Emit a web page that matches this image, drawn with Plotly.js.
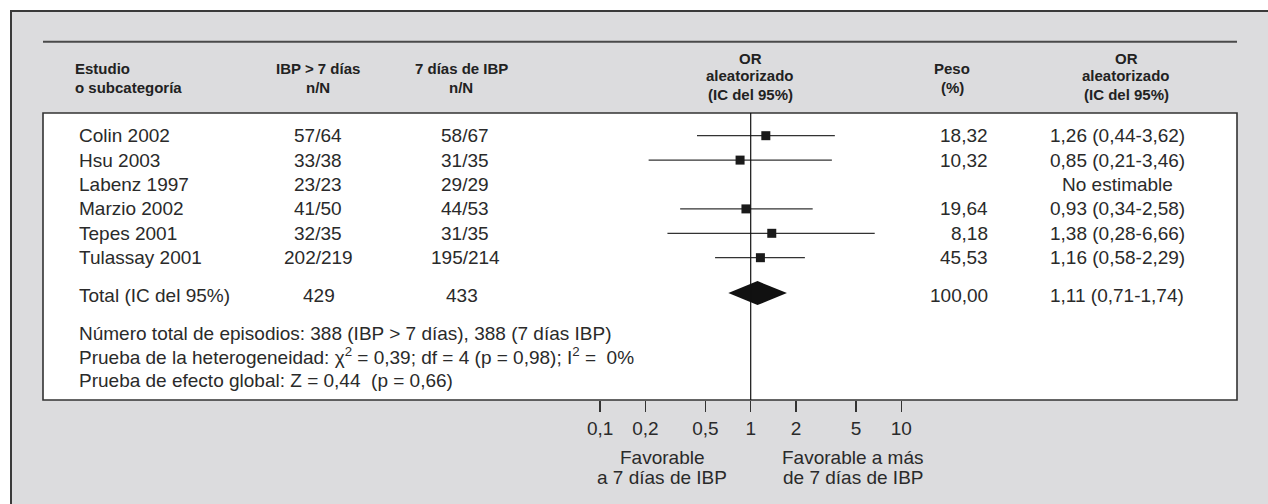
<!DOCTYPE html>
<html>
<head>
<meta charset="utf-8">
<script src="https://cdn.plot.ly/plotly-3.0.1.min.js"></script>
<style>html,body{margin:0;padding:0;background:#fff;}#chart{width:1268px;height:504px;}</style>
</head>
<body>
<div id="chart"></div>
<script>
// ---------- data ----------
const studies   = ['Colin 2002','Hsu 2003','Labenz 1997','Marzio 2002','Tepes 2001','Tulassay 2001'];
const treatNN   = ['57/64','33/38','23/23','41/50','32/35','202/219'];
const ctrlNN    = ['58/67','31/35','29/29','44/53','31/35','195/214'];
const orValues  = [1.26, 0.85, null, 0.93, 1.38, 1.16];
const ciLow     = [0.44, 0.21, null, 0.34, 0.28, 0.58];
const ciHigh    = [3.62, 3.46, null, 2.58, 6.66, 2.29];
const weights   = ['18,32','10,32','','19,64','8,18','45,53'];
const orLabels  = ['1,26 (0,44-3,62)','0,85 (0,21-3,46)','No estimable','0,93 (0,34-2,58)','1,38 (0,28-6,66)','1,16 (0,58-2,29)'];

const totalLabel  = 'Total (IC del 95%)';
const totalTreat  = '429';
const totalCtrl   = '433';
const totalOR     = 1.11;
const totalLow    = 0.71;
const totalHigh   = 1.74;
const totalWeight = '100,00';
const totalORText = '1,11 (0,71-1,74)';

const footerLines = [
  'Número total de episodios: 388 (IBP > 7 días), 388 (7 días IBP)',
  'Prueba de la heterogeneidad: χ<sup>2</sup> = 0,39; df = 4 (p = 0,98); I<sup>2</sup> =  0%',
  'Prueba de efecto global: Z = 0,44  (p = 0,66)'
];

const tickValues = [0.1, 0.2, 0.5, 1, 2, 5, 10];
const tickLabels = ['0,1','0,2','0,5','1','2','5','10'];

const hdrStudy  = ['Estudio','o subcategoría'];
const hdrTreat  = ['IBP > 7 días','n/N'];
const hdrCtrl   = ['7 días de IBP','n/N'];
const hdrPlot   = ['OR','aleatorizado','(IC del 95%)'];
const hdrWeight = ['Peso','(%)'];
const hdrOR     = ['OR','aleatorizado','(IC del 95%)'];

const favLeft  = ['Favorable','a 7 días de IBP'];
const favRight = ['Favorable a más','de 7 días de IBP'];

// ---------- geometry ----------
const W = 1268, H = 504;
const L = 43, R = 1237, T = 113, B = 400;
const pw = R - L, ph = B - T;
const onePx = 750.7, decPx = 150.6;
const rowPx0 = 135.7, rowStep = 24.4;
const px = q => (q - L) / pw;          // pixel x -> paper x
const py = p => (B - p) / ph;          // pixel y -> paper y
const rowOf = p => (p - rowPx0) / rowStep;

const xr = [(L - onePx) / decPx, (R - onePx) / decPx];
const yr = [rowOf(B), rowOf(T)];

const rows = studies.map((_, i) => i);
const totalRowText = studies.length + 0.55;
const totalRowDia  = studies.length + 0.45;
const diaHalf = 0.49;

const txtFont = {family:'Liberation Sans, Arial, sans-serif', size:19, color:'#2a2a2a'};
const hdrFont = {family:'Liberation Sans, Arial, sans-serif', size:15, color:'#222', weight:700};

const annotations = [];
function add(text, xPx, y, yref, anchor, font) {
  annotations.push({text:text, x:px(xPx), xref:'paper', y:y, yref:yref,
    xanchor:anchor, yanchor:'middle', showarrow:false, font:font});
}

// headers
function header(lines, xPx, anchor) {
  const ys = lines.length === 3 ? [58, 76, 94] : [69, 87];
  lines.forEach((t, i) => add('<b>' + t + '</b>', xPx, py(ys[i]), 'paper', anchor, hdrFont));
}
header(hdrStudy, 73, 'left');
header(hdrTreat, 318, 'center');
header(hdrCtrl, 461, 'center');
header(hdrPlot, 750, 'center');
header(hdrWeight, 952, 'center');
header(hdrOR, 1126, 'center');

// study rows
studies.forEach((s, i) => {
  add(s, 77, rows[i], 'y', 'left', txtFont);
  add(treatNN[i], 318, rows[i], 'y', 'center', txtFont);
  add(ctrlNN[i], 465, rows[i], 'y', 'center', txtFont);
  if (weights[i]) add(weights[i], 990, rows[i], 'y', 'right', txtFont);
  add(orLabels[i], 1117, rows[i], 'y', 'center', txtFont);
});
// total row
add(totalLabel, 77, totalRowText, 'y', 'left', txtFont);
add(totalTreat, 319, totalRowText, 'y', 'center', txtFont);
add(totalCtrl, 462, totalRowText, 'y', 'center', txtFont);
add(totalWeight, 990, totalRowText, 'y', 'right', txtFont);
add(totalORText, 1117, totalRowText, 'y', 'center', txtFont);

// footer
const footY = [333, 356, 380];
footerLines.forEach((t, i) => add(t, 77, rowOf(footY[i]), 'y', 'left', txtFont));

// favour labels
favLeft.forEach((t, i) => add(t, 662, py([457, 477][i]), 'paper', 'center', txtFont));
favRight.forEach((t, i) => add(t, 853, py([457, 477][i]), 'paper', 'center', txtFont));

// ---------- traces ----------
const idx = rows.filter(i => orValues[i] !== null);
const studyTrace = {
  type:'scatter', mode:'markers',
  x: idx.map(i => orValues[i]), y: idx.map(i => rows[i]),
  marker:{symbol:'square', size:9, color:'#1a1a1a'},
  error_x:{type:'data', symmetric:false,
    array: idx.map(i => ciHigh[i] - orValues[i]),
    arrayminus: idx.map(i => orValues[i] - ciLow[i]),
    color:'#333', thickness:1.3, width:0},
  hoverinfo:'skip', showlegend:false
};
const diamond = {
  type:'scatter', mode:'lines',
  x:[totalLow, totalOR, totalHigh, totalOR, totalLow],
  y:[totalRowDia, totalRowDia - diaHalf, totalRowDia, totalRowDia + diaHalf, totalRowDia],
  fill:'toself', fillcolor:'#111', line:{width:0, color:'#111'},
  hoverinfo:'skip', showlegend:false
};

// ---------- shapes ----------
const shapes = [
  {type:'rect', xref:'paper', yref:'paper', x0:px(11), x1:px(1290), y0:py(11), y1:py(530),
   fillcolor:'#dcdcde', line:{color:'#3a3a3a', width:2}, layer:'below'},
  {type:'rect', xref:'paper', yref:'paper', x0:0, x1:1, y0:0, y1:1,
   fillcolor:'#ffffff', line:{color:'#333', width:1.6}, layer:'below'},
  {type:'line', xref:'paper', yref:'paper', x0:0, x1:1, y0:py(41.7), y1:py(41.7),
   line:{color:'#4a4a4a', width:2}},
  {type:'line', xref:'x', yref:'paper', x0:1, x1:1, y0:0, y1:1,
   line:{color:'#111', width:1.2}}
];

const layout = {
  width:W, height:H,
  margin:{l:L, r:W - R, t:T, b:H - B, pad:0},
  paper_bgcolor:'#ffffff', plot_bgcolor:'rgba(0,0,0,0)',
  showlegend:false,
  xaxis:{type:'log', range:xr, fixedrange:true, showgrid:false, zeroline:false, showline:false,
    tickmode:'array', tickvals:tickValues, ticktext:tickLabels,
    ticks:'outside', ticklen:11, tickwidth:1.5, tickcolor:'#333',
    tickfont:{family:'Liberation Sans, Arial, sans-serif', size:19, color:'#2a2a2a'}},
  yaxis:{range:yr, showgrid:false, zeroline:false, showline:false, showticklabels:false, ticks:'', fixedrange:true},
  shapes:shapes,
  annotations:annotations
};

Plotly.newPlot('chart', [studyTrace, diamond], layout, {displayModeBar:false, staticPlot:true});
</script>
</body>
</html>
